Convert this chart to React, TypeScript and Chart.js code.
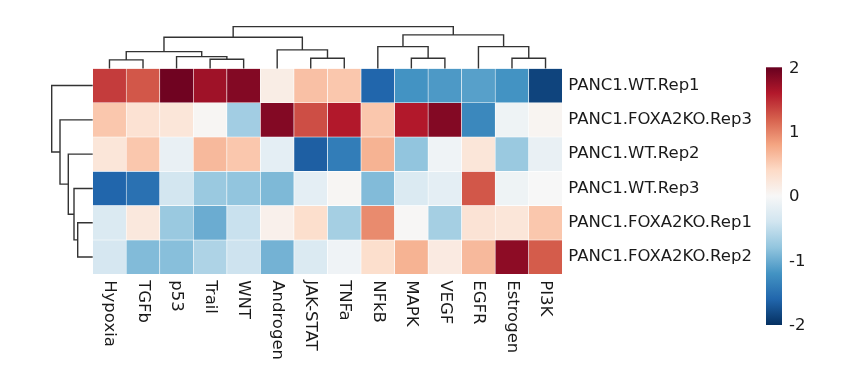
import React, { useEffect, useRef } from "react";
import { Chart, registerables } from "chart.js";

Chart.register(...registerables);

// ---- data ----
const columns = [
  "Hypoxia", "TGFb", "p53", "Trail", "WNT", "Androgen", "JAK-STAT",
  "TNFa", "NFkB", "MAPK", "VEGF", "EGFR", "Estrogen", "PI3K",
];
const rows = [
  "PANC1.WT.Rep1",
  "PANC1.FOXA2KO.Rep3",
  "PANC1.WT.Rep2",
  "PANC1.WT.Rep3",
  "PANC1.FOXA2KO.Rep1",
  "PANC1.FOXA2KO.Rep2",
];
const wtRep1 = [1.4, 1.25, 1.95, 1.7, 1.85, 0.15, 0.6, 0.55, -1.6, -1.2, -1.15, -1.1, -1.2, -1.85];
const koRep3 = [0.55, 0.3, 0.25, 0.03, -0.7, 1.85, 1.3, 1.6, 0.55, 1.6, 1.85, -1.3, -0.1, 0.05];
const wtRep2 = [0.25, 0.55, -0.15, 0.65, 0.55, -0.2, -1.65, -1.4, 0.7, -0.8, -0.08, 0.25, -0.75, -0.15];
const wtRep3 = [-1.6, -1.5, -0.38, -0.75, -0.8, -0.9, -0.2, 0.03, -0.88, -0.3, -0.2, 1.25, -0.1, 0.0];
const koRep1 = [-0.3, 0.22, -0.75, -1.0, -0.45, 0.1, 0.35, -0.68, 0.95, 0.02, -0.68, 0.28, 0.25, 0.55];
const koRep2 = [-0.35, -0.88, -0.85, -0.62, -0.42, -0.95, -0.3, -0.08, 0.35, 0.7, 0.18, 0.65, 1.8, 1.22];
const matrix = [wtRep1, koRep3, wtRep2, wtRep3, koRep1, koRep2];

// dendrogram links: [left node, right node, height]; leaves first, merges numbered after
const colLinks = [
  [0, 1, 8.5],
  [3, 4, 9.2],
  [2, 15, 11.8],
  [14, 16, 16.8],
  [6, 7, 10.2],
  [5, 18, 18.5],
  [17, 19, 31.2],
  [9, 10, 10.2],
  [8, 21, 21.8],
  [12, 13, 10.2],
  [11, 23, 21.8],
  [22, 24, 33.5],
  [20, 25, 41.8],
];
const rowLinks = [
  [4, 5, 15],
  [3, 6, 18.7],
  [2, 7, 24.4],
  [1, 8, 32.7],
  [0, 9, 41],
];
const cbarTicks = [2, 1, 0, -1, -2];
const vmin = -2;
const vmax = 2;

// RdBu_r colormap
const cmapStops = [
  "#053061", "#2166ac", "#4393c3", "#92c5de", "#d1e5f0", "#f7f7f7",
  "#fddbc7", "#f4a582", "#d6604d", "#b2182b", "#67001f",
];

function hexToRgb(h: string) {
  return [parseInt(h.slice(1, 3), 16), parseInt(h.slice(3, 5), 16), parseInt(h.slice(5, 7), 16)];
}
function colorFor(v: number) {
  let t = (v - vmin) / (vmax - vmin);
  t = Math.max(0, Math.min(1, t));
  const pos = t * (cmapStops.length - 1);
  const i = Math.min(Math.floor(pos), cmapStops.length - 2);
  const f = pos - i;
  const a = hexToRgb(cmapStops[i]);
  const b = hexToRgb(cmapStops[i + 1]);
  const c = a.map((x, k) => Math.round(x + (b[k] - x) * f));
  return `rgb(${c[0]},${c[1]},${c[2]})`;
}

const FONT = '16.5px "DejaVu Sans", sans-serif';
const TEXT = "#1a1a1a";
const LINE = "#333333";

const decorPlugin = {
  id: "decor",
  afterDraw(chart: any) {
    const ctx = chart.ctx as CanvasRenderingContext2D;
    const xs = chart.scales.x;
    const ys = chart.scales.y;
    const area = chart.chartArea;
    ctx.save();

    // column dendrogram
    ctx.strokeStyle = LINE;
    ctx.lineWidth = 1.4;
    const cnodes: number[][] = columns.map((_, i) => [xs.getPixelForValue(i), area.top]);
    colLinks.forEach(([a, b, h]) => {
      const pa = cnodes[a];
      const pb = cnodes[b];
      const y = area.top - h;
      ctx.beginPath();
      ctx.moveTo(pa[0], pa[1]);
      ctx.lineTo(pa[0], y);
      ctx.lineTo(pb[0], y);
      ctx.lineTo(pb[0], pb[1]);
      ctx.stroke();
      cnodes.push([(pa[0] + pb[0]) / 2, y]);
    });

    // row dendrogram
    const rnodes: number[][] = rows.map((_, i) => [area.left, ys.getPixelForValue(i + 0.5)]);
    rowLinks.forEach(([a, b, h]) => {
      const pa = rnodes[a];
      const pb = rnodes[b];
      const x = area.left - h;
      ctx.beginPath();
      ctx.moveTo(pa[0], pa[1]);
      ctx.lineTo(x, pa[1]);
      ctx.lineTo(x, pb[1]);
      ctx.lineTo(pb[0], pb[1]);
      ctx.stroke();
      rnodes.push([x, (pa[1] + pb[1]) / 2]);
    });

    // labels
    ctx.fillStyle = TEXT;
    ctx.font = FONT;
    ctx.textBaseline = "middle";
    ctx.textAlign = "left";
    rows.forEach((r, i) => {
      ctx.fillText(r, area.right + 6, ys.getPixelForValue(i + 0.5));
    });
    columns.forEach((c, i) => {
      ctx.save();
      ctx.translate(xs.getPixelForValue(i), area.bottom + 6);
      ctx.rotate(Math.PI / 2);
      ctx.textAlign = "left";
      ctx.textBaseline = "middle";
      ctx.fillText(c, 0, 0);
      ctx.restore();
    });

    // colorbar
    const cbL = 766, cbR = 782, cbT = 67.3, cbB = 325;
    const grad = ctx.createLinearGradient(0, cbB, 0, cbT);
    cmapStops.forEach((c, i) => grad.addColorStop(i / (cmapStops.length - 1), c));
    ctx.fillStyle = grad;
    ctx.fillRect(cbL, cbT, cbR - cbL, cbB - cbT);
    ctx.fillStyle = TEXT;
    ctx.textAlign = "left";
    ctx.textBaseline = "middle";
    cbarTicks.forEach((t) => {
      const y = cbB - ((t - vmin) / (vmax - vmin)) * (cbB - cbT);
      ctx.fillText(String(t), cbR + 7, y + 1);
    });

    ctx.restore();
  },
};

export default function App() {
  const ref = useRef<HTMLCanvasElement | null>(null);
  useEffect(() => {
    document.body.style.margin = "0";
    const canvas = ref.current;
    if (!canvas) return;
    const chart = new Chart(canvas, {
      type: "bar",
      data: {
        labels: columns,
        datasets: rows.map((r, i) => ({
          label: r,
          data: matrix[i].map(() => [i, i + 1]),
          backgroundColor: matrix[i].map(colorFor),
          borderColor: "#ffffff",
          borderWidth: 0.6,
          borderSkipped: false,
          barPercentage: 1,
          categoryPercentage: 1,
          grouped: false,
        })) as any,
      },
      options: {
        animation: false,
        responsive: false,
        devicePixelRatio: 1,
        layout: { padding: { left: 92.7, top: 68.4, right: 853 - 562.3, bottom: 391 - 274.2 } },
        plugins: { legend: { display: false }, tooltip: { enabled: false } },
        scales: {
          x: { type: "category", display: false, offset: true, grid: { display: false } },
          y: { type: "linear", display: false, min: 0, max: 6, reverse: true },
        },
      } as any,
      plugins: [decorPlugin],
    });
    return () => chart.destroy();
  }, []);
  return (
    <div style={{ width: 853, height: 391, background: "#fff" }}>
      <canvas ref={ref} width={853} height={391} style={{ display: "block" }} />
    </div>
  );
}
